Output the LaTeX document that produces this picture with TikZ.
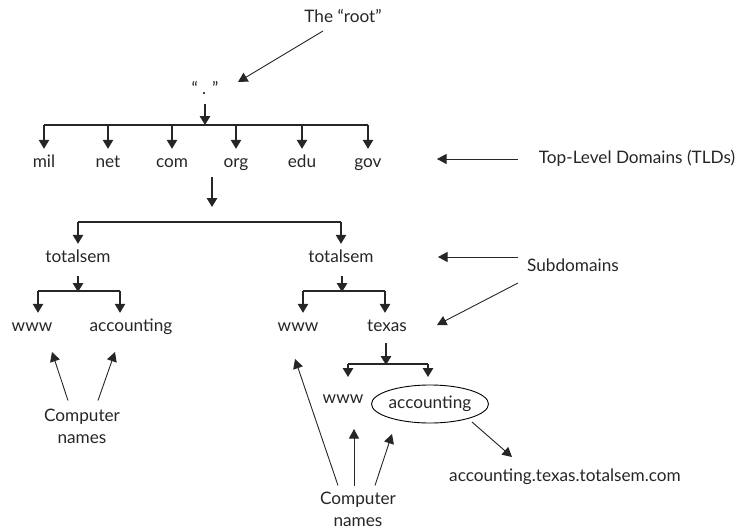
\documentclass[tikz,border=0pt]{standalone}
\usepackage{fontspec}
\setmainfont{Lato}
\usetikzlibrary{arrows.meta,shapes.geometric}
\begin{document}
\begin{tikzpicture}[x=1pt,y=-1pt,
  every node/.style={font=\fontsize{17.2}{22}\selectfont, text=black!85},
  lbl/.style={inner sep=0pt, minimum height=28pt, text height=12pt, text depth=4pt},
  tree/.style={line width=1.2pt, draw=black!85},
  arr/.style={tree, -{Triangle[length=9pt,width=10.5pt]}},
  note/.style={line width=0.9pt, draw=black!85, -{Triangle[length=9.5pt,width=10pt]}}]
\useasboundingbox (0,0) rectangle (744,530);

% labels
\node[lbl] (rootlbl) at (343,18) {The “root”};
\node[lbl] (root) at (205,90) {“ . ”};
\node[lbl] (mil) at (44,163) {mil};
\node[lbl] (net) at (108,163) {net};
\node[lbl] (com) at (172,163) {com};
\node[lbl] (org) at (236,163) {org};
\node[lbl] (edu) at (302,163) {edu};
\node[lbl] (gov) at (368,163) {gov};
\node[lbl] (tld) at (637,159) {Top-Level Domains (TLDs)};
\node[lbl] (tsL) at (78,258) {totalsem};
\node[lbl] (tsR) at (341,258) {totalsem};
\node[lbl] (sub) at (573,267) {Subdomains};
\node[lbl] (wwwL) at (32,327) {www};
\node[lbl] (accL) at (131,327) {accounting};
\node[lbl] (wwwR) at (298,327) {www};
\node[lbl] (texas) at (387,327) {texas};
\node[lbl] (wwwT) at (343,399) {www};
\node[draw, ellipse, line width=0.9pt, minimum width=117pt, minimum height=38pt, inner sep=0pt] (accT) at (430,404) {accounting};
\node[lbl] (fqdn) at (565,477) {accounting.texas.totalsem.com};
\node[align=center, inner sep=0pt] (cnL) at (82,426) {Computer\\names};
\node[align=center, inner sep=0pt] (cnR) at (358,509) {Computer\\names};

% bar coordinates
\coordinate (b1) at (205,125);
\coordinate (b1l) at (44,125);
\coordinate (b1r) at (368,125);
\coordinate (b2) at (212,207);
\coordinate (b2l) at (78,222);
\coordinate (b2r) at (341,222);
\coordinate (b3) at (78,291);
\coordinate (b3l) at (38,291);
\coordinate (b3r) at (120,291);
\coordinate (b4) at (342,291);
\coordinate (b4l) at (303,291);
\coordinate (b4r) at (385,291);
\coordinate (b5) at (386,364);
\coordinate (b5l) at (348,364);
\coordinate (b5r) at (428,364);

% tree: root -> TLDs
\draw[arr] (root.south -| b1) -- (b1);
\draw[tree] (b1l) -- (b1r);
\foreach \n in {mil,net,com,org,edu,gov}
  \draw[arr] (\n.north |- b1) -- (\n.north);
% org -> totalsem
\draw[arr] (org.south -| b2) -- (b2);
\draw[tree] (b2l) -- (b2r);
\draw[arr] (b2l) -- (tsL.north);
\draw[arr] (b2r) -- (tsR.north);
% left totalsem
\draw[arr] ([yshift=-4pt]tsL.south) -- ([yshift=-1pt]b3);
\draw[tree] (b3l) -- (b3r);
\draw[arr] (b3l) -- (b3l |- wwwL.north);
\draw[arr] (b3r) -- (b3r |- accL.north);
% right totalsem
\draw[arr] ([yshift=-4pt]tsR.south -| b4) -- ([yshift=-1pt]b4);
\draw[tree] (b4l) -- (b4r);
\draw[arr] (b4l) -- (b4l |- wwwR.north);
\draw[arr] (b4r) -- (b4r |- texas.north);
% texas
\draw[arr] ([yshift=-2pt]texas.south -| b5) -- ([yshift=-1pt]b5);
\draw[tree] (b5l) -- (b5r);
\draw[arr] (b5l) -- ++(0,13);
\draw[arr] (b5r) -- ++(0,13);

% annotation arrows
\coordinate (sRoot) at (323,31);
\coordinate (tRoot) at (238,82);
\draw[note] (sRoot) -- (tRoot);
\coordinate (sTld) at (518,159);
\coordinate (tTld) at (437,159);
\draw[note] (sTld) -- (tTld);
\coordinate (sSub1) at (518,257);
\coordinate (sSub2) at (518,283);
\coordinate (tSub1) at (438,257);
\coordinate (tSub2) at (437,325);
\draw[note] (sSub1) -- (tSub1);
\draw[note] (sSub2) -- (tSub2);
\coordinate (sFq) at (472,422);
\coordinate (tFq) at (512,457);
\draw[note] (sFq) -- (tFq);
% computer names left
\coordinate (tCL1) at (52,352);
\coordinate (tCL2) at (115,352);
\draw[note] ([xshift=-14pt,yshift=8pt]cnL.north) -- (tCL1);
\draw[note] ([xshift=16pt,yshift=8pt]cnL.north) -- (tCL2);
% computer names right
\coordinate (tCR1) at (295,359);
\coordinate (tCR2) at (354,429);
\coordinate (tCR3) at (392,434);
\draw[note] ([xshift=-20pt,yshift=6pt]cnR.north) -- (tCR1);
\draw[note] ([xshift=-4pt,yshift=6pt]cnR.north) -- (tCR2);
\draw[note] ([xshift=17pt,yshift=6pt]cnR.north) -- (tCR3);
\end{tikzpicture}
\end{document}
